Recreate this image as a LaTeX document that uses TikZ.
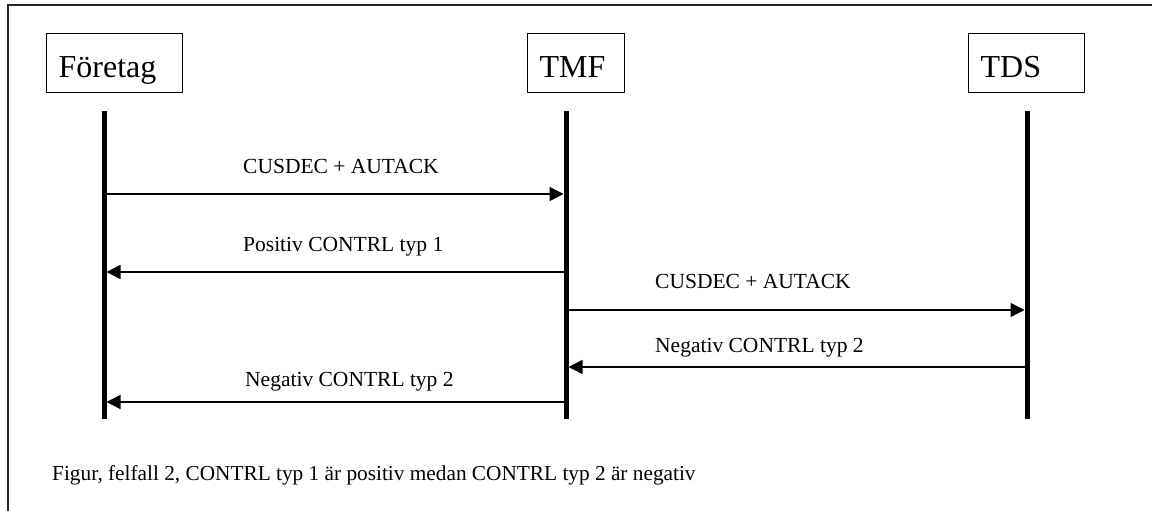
\documentclass[tikz,border=0pt]{standalone}
\usepackage{fontspec}
\setmainfont{Liberation Serif}
\usetikzlibrary{arrows.meta}
\tikzset{
  actor/.style={draw=black, line width=1.3pt, anchor=north west, inner xsep=12pt, inner ysep=0pt,
    text height=44pt, text depth=15pt, align=left, font=\fontsize{32}{36}\selectfont},
  lifeline/.style={line width=5pt},
  msg/.style={line width=1.5pt, -{Triangle[length=14pt,width=14pt]}, shorten >=2.5pt},
  msglabel/.style={anchor=base west, inner sep=0pt, font=\fontsize{21.5}{24}\selectfont},
  caption/.style={anchor=base west, inner sep=0pt, font=\fontsize{21.3}{24}\selectfont},
  frame/.style={draw=black!85, line width=1.3pt}
}
\begin{document}
\begin{tikzpicture}[x=1pt,y=-1pt]
\useasboundingbox (0,0) rectangle (1152,511);
\draw[frame] (8,5) rectangle (1160,520);
% actors
\node[actor, text width=112pt] (foretag) at (46,33) {Företag};
\node[actor, text width=73pt] (tmf) at (527,33) {TMF};
\node[actor, text width=92pt] (tds) at (968,33) {TDS};
% lifeline ends
\coordinate (f1) at (104,111); \coordinate (f2) at (104,419);
\coordinate (m1) at (566,111); \coordinate (m2) at (566,419);
\coordinate (d1) at (1027,111); \coordinate (d2) at (1027,419);
\draw[lifeline] (f1) -- (f2);
\draw[lifeline] (m1) -- (m2);
\draw[lifeline] (d1) -- (d2);
% message anchors
\coordinate (fa) at (104,194); \coordinate (ma) at (566,194);
\coordinate (fb) at (104,272); \coordinate (mb) at (566,272);
\coordinate (mc) at (566,310); \coordinate (dc) at (1027,310);
\coordinate (md) at (566,367); \coordinate (dd) at (1027,367);
\coordinate (fe) at (104,402); \coordinate (me) at (566,402);
\draw[msg] (fa) -- (ma);
\draw[msg] (mb) -- (fb);
\draw[msg] (mc) -- (dc);
\draw[msg] (dd) -- (md);
\draw[msg] (me) -- (fe);
% labels
\node[msglabel] (la) at (243,173) {CUSDEC + AUTACK};
\node[msglabel] (lb) at (243,251) {Positiv CONTRL typ 1};
\node[msglabel] (lc) at (655,288) {CUSDEC + AUTACK};
\node[msglabel] (ld) at (655,352) {Negativ CONTRL typ 2};
\node[msglabel] (le) at (245,386) {Negativ CONTRL typ 2};
\node[caption] (cap) at (52,480) {Figur, felfall 2, CONTRL typ 1 är positiv medan CONTRL typ 2 är negativ};
\end{tikzpicture}
\end{document}
